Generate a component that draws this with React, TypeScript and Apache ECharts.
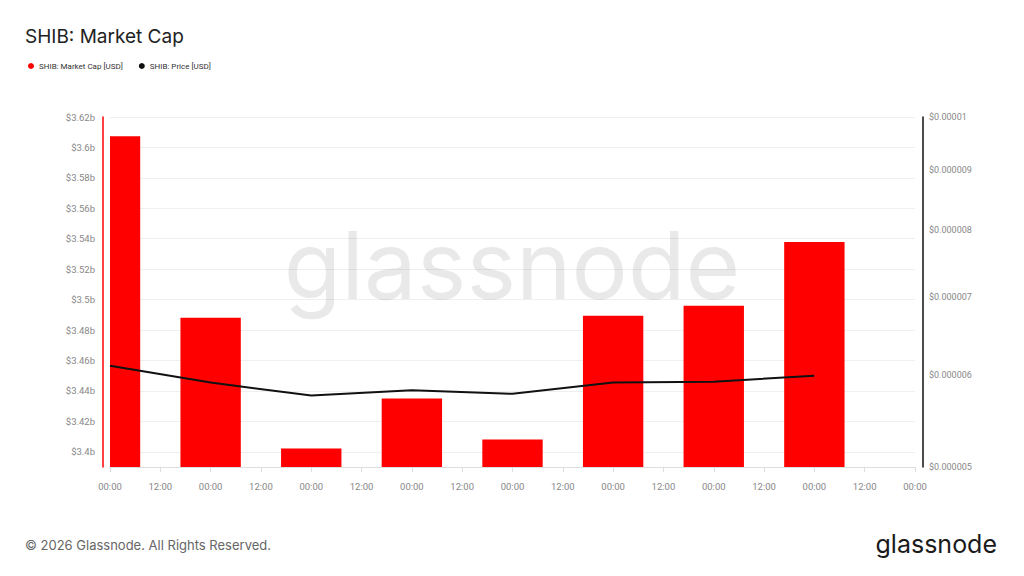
import React, { useEffect, useRef } from "react";
import * as echarts from "echarts";

const xLabels = [
  "00:00", "12:00", "00:00", "12:00", "00:00", "12:00", "00:00", "12:00",
  "00:00", "12:00", "00:00", "12:00", "00:00", "12:00", "00:00", "12:00", "00:00",
];
// one value per day (placed at each day's 00:00 tick)
const marketCapBillions = [3.6073, 3.488, 3.4022, 3.435, 3.4081, 3.4894, 3.4959, 3.5379];
const priceUsd = [6.11e-6, 5.91e-6, 5.76e-6, 5.82e-6, 5.78e-6, 5.91e-6, 5.92e-6, 5.99e-6];
const leftTicks = [3.4, 3.42, 3.44, 3.46, 3.48, 3.5, 3.52, 3.54, 3.56, 3.58, 3.6, 3.62];
const rightTicks = [5e-6, 6e-6, 7e-6, 8e-6, 9e-6, 1e-5];
const capAxisMin = 3.39;
const capAxisMax = 3.62;

const FONT = "Inter, 'Noto Sans', sans-serif";
const LFONT = "Roboto, 'Noto Sans', sans-serif";

function fmtPrice(v: number) {
  let s = v.toFixed(6);
  s = s.replace(/0+$/, "").replace(/\.$/, "");
  return "$" + s;
}
function fmtCap(v: number) {
  let s = v.toFixed(2).replace(/0+$/, "").replace(/\.$/, "");
  return "$" + s + "b";
}

export default function App() {
  const ref = useRef<HTMLDivElement>(null);
  useEffect(() => {
    if (!ref.current) return;
    const chart = echarts.init(ref.current, undefined, { renderer: "svg" });
    // each daily value sits on its day's "00:00" category (every other slot)
    const capData = marketCapBillions.map((v, i) => [i * 2, v]);
    const priceData = priceUsd.map((v, i) => [i * 2, v]);
    chart.setOption({
      animation: false,
      backgroundColor: "#ffffff",
      textStyle: { fontFamily: FONT },
      title: {
        text: "SHIB: Market Cap",
        left: 20,
        top: 22,
        textStyle: { fontSize: 19, fontWeight: "normal", color: "#222", fontFamily: FONT },
      },
      legend: {
        left: 28,
        top: 62,
        padding: 0,
        icon: "circle",
        itemWidth: 6,
        itemHeight: 6,
        itemGap: 16,
        textStyle: { fontSize: 8, color: "#333", fontFamily: LFONT },
        data: [
          { name: "SHIB: Market Cap [USD]", itemStyle: { color: "#ff0000" } },
          { name: "SHIB: Price [USD]", itemStyle: { color: "#111" } },
        ],
      },
      grid: { left: 110, right: 109, top: 117, bottom: 109, containLabel: false },
      xAxis: {
        type: "category",
        data: xLabels,
        boundaryGap: false,
        axisLine: { show: true, lineStyle: { color: "#dddddd", width: 1 } },
        axisTick: { show: true, length: 5, alignWithLabel: true, lineStyle: { color: "#dddddd" } },
        splitLine: { show: false },
        axisLabel: {
          interval: 0,
          color: "#888",
          fontSize: 9.5,
          margin: 14,
          fontFamily: LFONT,
        },
      },
      yAxis: [
        {
          type: "value",
          position: "left",
          min: capAxisMin,
          max: capAxisMax,
          offset: 7,
          axisLine: { show: true, lineStyle: { color: "#ff0000", width: 1.5 } },
          axisTick: { show: false, customValues: leftTicks },
          axisLabel: {
            customValues: leftTicks,
            formatter: (v: number) => fmtCap(v),
            color: "#888",
            fontSize: 9.5,
            margin: 8,
            fontFamily: LFONT,
          },
          splitLine: { show: true, lineStyle: { color: "#efefef", width: 1 } },
        },
        {
          type: "log",
          position: "right",
          min: 5e-6,
          max: 1e-5,
          offset: 8,
          axisLine: { show: true, lineStyle: { color: "#111", width: 1.5 } },
          axisTick: { show: false, customValues: rightTicks },
          axisLabel: {
            customValues: rightTicks,
            formatter: (v: number) => fmtPrice(v),
            color: "#888",
            fontSize: 9,
            margin: 6,
            fontFamily: LFONT,
          },
          splitLine: { show: false },
        },
      ],
      graphic: [
        {
          type: "text",
          left: "center",
          top: 218,
          z: 100,
          silent: true,
          style: {
            text: "glassnode",
            fontSize: 94,
            fontFamily: FONT,
            fill: "rgba(0,0,0,0.085)",
          },
        },
        {
          type: "text",
          left: 25,
          top: 538,
          style: {
            text: "© 2026 Glassnode. All Rights Reserved.",
            fontSize: 13,
            fontFamily: FONT,
            fill: "#666",
          },
        },
        {
          type: "text",
          right: 27,
          top: 531,
          style: {
            text: "glassnode",
            fontSize: 25,
            fontFamily: FONT,
            fill: "#1a1a1a",
          },
        },
      ],
      series: [
        {
          name: "SHIB: Market Cap [USD]",
          type: "custom",
          yAxisIndex: 0,
          data: capData,
          encode: { x: 0, y: 1 },
          itemStyle: { color: "#ff0000" },
          z: 2,
          renderItem: (params: any, api: any) => {
            const xi = api.value(0);
            const v = api.value(1);
            const top = api.coord([xi, v]);
            const base = api.coord([xi, capAxisMin]);
            const w = api.size([1, 0])[0] * 1.2;
            const cs = params.coordSys;
            const shape = echarts.graphic.clipRectByRect(
              { x: top[0] - w / 2, y: top[1], width: w, height: base[1] - top[1] },
              { x: cs.x, y: cs.y, width: cs.width, height: cs.height }
            );
            return shape
              ? { type: "rect", shape, style: { fill: "#ff0000" } }
              : null;
          },
        },
        {
          name: "SHIB: Price [USD]",
          type: "line",
          yAxisIndex: 1,
          data: priceData,
          showSymbol: false,
          symbol: "circle",
          itemStyle: { color: "#111" },
          lineStyle: { color: "#111", width: 2 },
          z: 3,
        },
      ],
    });
    return () => chart.dispose();
  }, []);
  return (
    <div
      ref={ref}
      style={{ position: "fixed", left: 0, top: 0, width: 1024, height: 576 }}
    />
  );
}
